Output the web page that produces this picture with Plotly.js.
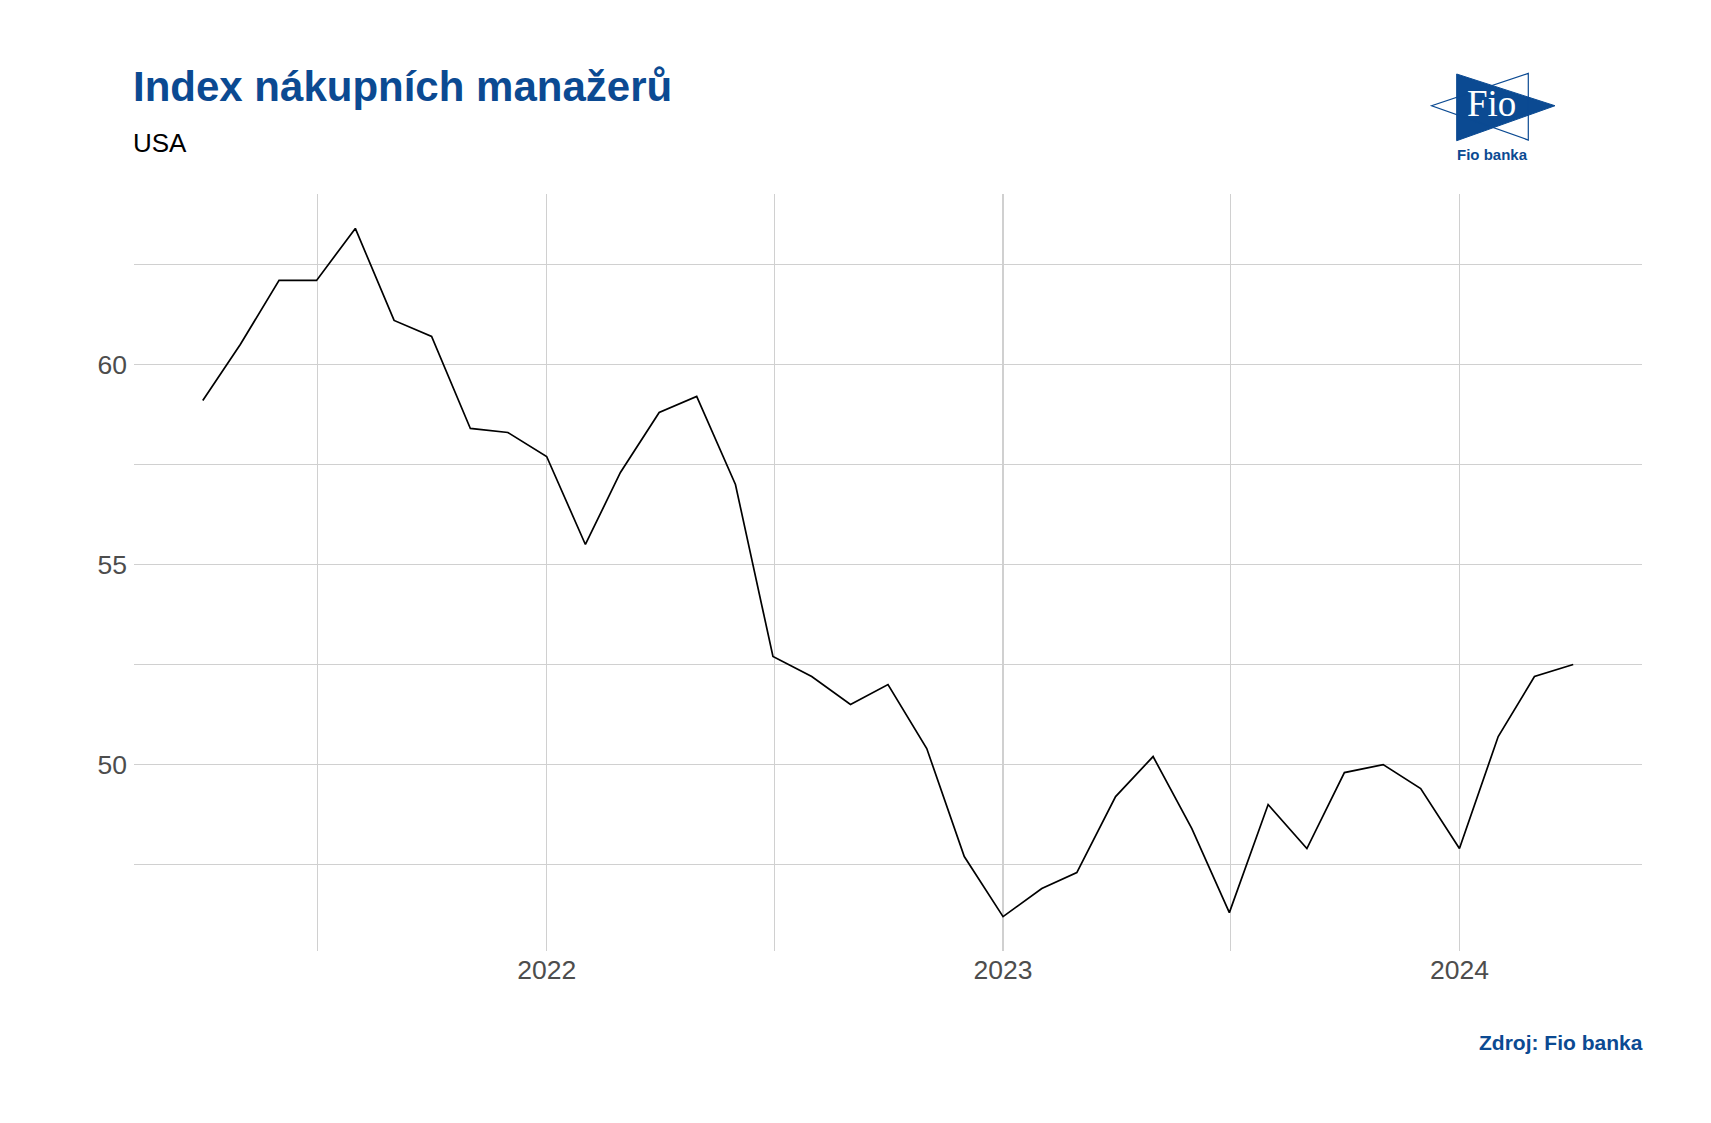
<!DOCTYPE html>
<html>
<head>
<meta charset="utf-8">
<script src="https://cdn.plot.ly/plotly-3.0.1.min.js"></script>
<style>
html,body{margin:0;padding:0;background:#fff;}
#chart{width:1711px;height:1123px;}
</style>
</head>
<body>
<div id="chart"></div>
<script>
// Monthly dates (as positioned in the reference)
const dates = [
  "2021-04-01","2021-05-01","2021-06-01","2021-07-01","2021-08-01","2021-09-01",
  "2021-10-01","2021-11-01","2021-12-01","2022-01-01","2022-02-01","2022-03-01",
  "2022-04-01","2022-05-01","2022-06-01","2022-07-01","2022-08-01","2022-09-01",
  "2022-10-01","2022-11-01","2022-12-01","2023-01-01","2023-02-01","2023-03-01",
  "2023-04-01","2023-05-01","2023-06-01","2023-07-01","2023-08-01","2023-09-01",
  "2023-10-01","2023-11-01","2023-12-01","2024-01-01","2024-02-01","2024-03-01",
  "2024-04-01"
];
// PMI values (USA)
const pmi = [
  59.1, 60.5, 62.1, 62.1, 63.4, 61.1,
  60.7, 58.4, 58.3, 57.7, 55.5, 57.3,
  58.8, 59.2, 57.0, 52.7, 52.2, 51.5,
  52.0, 50.4, 47.7, 46.2, 46.9, 47.3,
  49.2, 50.2, 48.4, 46.3, 49.0, 47.9,
  49.8, 50.0, 49.4, 47.9, 50.7, 52.2,
  52.5
];
// Axis ticks (labels shown only on major gridlines)
const xTickVals = ["2021-07-02","2022-01-01","2022-07-02","2023-01-01","2023-07-02","2024-01-01"];
const xTickText = ["","2022","","2023","","2024"];
const yTickVals = [47.5, 50, 52.5, 55, 57.5, 60, 62.5];
const yTickText = ["", "50", "", "55", "", "60", ""];

const titleText = "Index nákupních manažerů";
const subtitleText = "USA";
const sourceText = "Zdroj: Fio banka";

const blue = "#0b4a92";

const trace = {
  x: dates,
  y: pmi,
  type: "scatter",
  mode: "lines",
  line: {color: "#000000", width: 1.7},
  hoverinfo: "x+y"
};

const layout = {
  width: 1711,
  height: 1123,
  paper_bgcolor: "#ffffff",
  plot_bgcolor: "#ffffff",
  margin: {l: 134, r: 69, t: 194, b: 172},
  showlegend: false,
  font: {family: "Liberation Sans, Arial, sans-serif", color: "#4d4d4d"},
  xaxis: {
    type: "date",
    range: ["2021-02-05", "2024-05-26"],
    tickmode: "array",
    tickvals: xTickVals,
    ticktext: xTickText,
    showgrid: true,
    gridcolor: "#d0d0d0",
    gridwidth: 1.2,
    zeroline: false,
    showline: false,
    ticks: "",
    tickfont: {size: 26.5, color: "#4d4d4d"},
    ticklabelstandoff: 0
  },
  yaxis: {
    range: [45.34, 64.26],
    tickmode: "array",
    tickvals: yTickVals,
    ticktext: yTickText,
    showgrid: true,
    gridcolor: "#d0d0d0",
    gridwidth: 1.2,
    zeroline: false,
    showline: false,
    ticks: "",
    tickfont: {size: 26.5, color: "#4d4d4d"},
    ticklabelstandoff: 6
  },
  shapes: [
    {type: "path", xref: "paper", yref: "paper",
     path: "M 0.8771 1.1585 L 0.9423 1.1166 L 0.8771 1.0704 Z",
     fillcolor: blue, line: {color: blue, width: 1}},
    {type: "path", xref: "paper", yref: "paper",
     path: "M 0.9246 1.1594 L 0.8605 1.1166 L 0.9246 1.0713 Z",
     fillcolor: "rgba(0,0,0,0)", line: {color: blue, width: 1.2}}
  ],
  annotations: [
    {text: titleText, xref: "paper", yref: "paper", x: -0.002, y: 1.1418,
     xanchor: "left", yanchor: "middle", showarrow: false,
     font: {family: "Liberation Sans, Arial, sans-serif", size: 42, color: blue, weight: "bold"}},
    {text: subtitleText, xref: "paper", yref: "paper", x: -0.002, y: 1.0672,
     xanchor: "left", yanchor: "middle", showarrow: false,
     font: {family: "Liberation Sans, Arial, sans-serif", size: 26, color: "#000000"}},
    {text: sourceText, xref: "paper", yref: "paper", x: 1.002, y: -0.1213,
     xanchor: "right", yanchor: "middle", showarrow: false,
     font: {family: "Liberation Sans, Arial, sans-serif", size: 21, color: blue, weight: "bold"}},
    {text: "Fio", xref: "paper", yref: "paper", x: 0.9003, y: 1.1198,
     xanchor: "center", yanchor: "middle", showarrow: false,
     font: {family: "Liberation Serif, Times New Roman, serif", size: 37, color: "#ffffff"}},
    {text: "Fio banka", xref: "paper", yref: "paper", x: 0.9007, y: 1.0528,
     xanchor: "center", yanchor: "middle", showarrow: false,
     font: {family: "Liberation Sans, Arial, sans-serif", size: 15, color: blue, weight: "bold"}}
  ]
};

Plotly.newPlot("chart", [trace], layout, {displayModeBar: false, staticPlot: true});
</script>
</body>
</html>
